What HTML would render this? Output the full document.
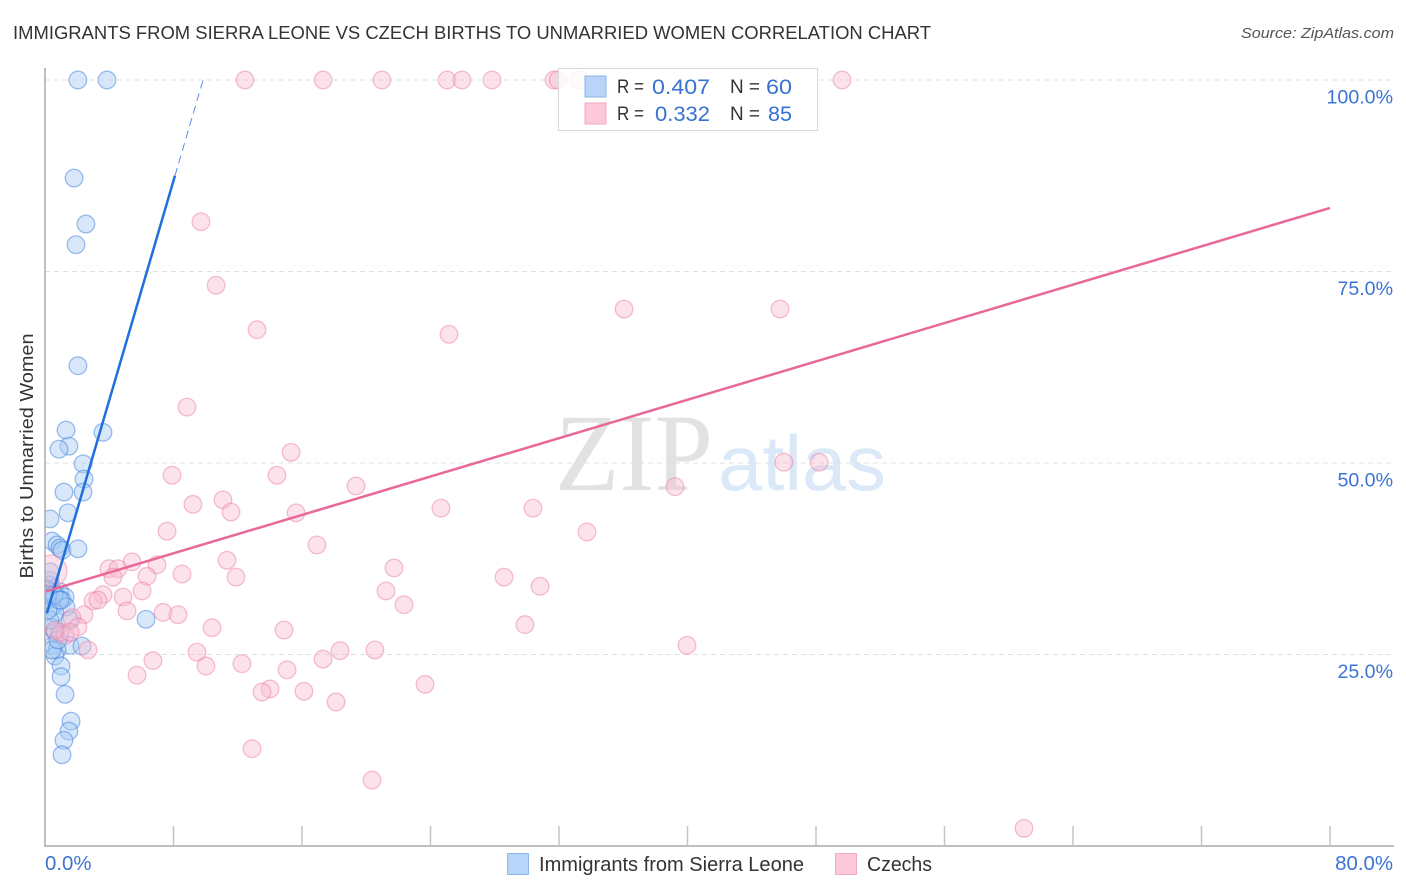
<!DOCTYPE html>
<html lang="en">
<head>
<meta charset="utf-8">
<title>Immigrants from Sierra Leone vs Czech Births to Unmarried Women Correlation Chart</title>
<style>
html,body{margin:0;padding:0;background:#fff;width:1406px;height:892px;overflow:hidden}
svg{display:block;font-family:"Liberation Sans",sans-serif}
</style>
</head>
<body>
<svg id="chart" xmlns="http://www.w3.org/2000/svg" width="1406" height="892" viewBox="0 0 1406 892">
  <defs><clipPath id="plot-clip"><rect x="45" y="60" width="1349" height="786"/></clipPath></defs>
  <rect x="0" y="0" width="1406" height="892" fill="#fff"/>
  <text x="13" y="39" font-size="18.5" fill="#333" textLength="918" lengthAdjust="spacingAndGlyphs">IMMIGRANTS FROM SIERRA LEONE VS CZECH BIRTHS TO UNMARRIED WOMEN CORRELATION CHART</text>
  <text x="1394" y="38" font-size="15" font-style="italic" fill="#555" text-anchor="end" textLength="153" lengthAdjust="spacingAndGlyphs">Source: ZipAtlas.com</text>
  <g>
    <text x="555" y="490" font-family="'Liberation Serif',serif" font-size="110" fill="#e2e2e2" textLength="158" lengthAdjust="spacingAndGlyphs">ZIP</text>
    <text x="718" y="490" font-size="78" fill="#dbe8f8" textLength="168" lengthAdjust="spacingAndGlyphs">atlas</text>
  </g>
  <g id="grid"></g>
  <g id="points" clip-path="url(#plot-clip)"></g>
  <g id="trends"></g>
  <g id="axes"></g>
  <text transform="translate(33,456) rotate(-90)" font-size="18.5" fill="#333" text-anchor="middle" textLength="245" lengthAdjust="spacingAndGlyphs">Births to Unmarried Women</text>

  <g>
    <rect x="558.5" y="68.5" width="259" height="62" fill="#fff" fill-opacity="0.82" stroke="#d8d8d8" stroke-width="1"/>
    <rect x="585" y="76" width="21" height="21" fill="#b8d4f8" stroke="#8fb4e6"/>
    <rect x="585" y="103" width="21" height="21" fill="#fcc8da" stroke="#f2a9c2"/>
    <text x="617" y="93" font-size="19" fill="#333" textLength="27" lengthAdjust="spacingAndGlyphs">R =</text>
    <text x="652" y="94" font-size="21" fill="#3672d2" textLength="58" lengthAdjust="spacingAndGlyphs">0.407</text>
    <text x="730" y="93" font-size="19" fill="#333" textLength="30" lengthAdjust="spacingAndGlyphs">N =</text>
    <text x="766" y="94" font-size="21" fill="#3672d2" textLength="26" lengthAdjust="spacingAndGlyphs">60</text>
    <text x="617" y="120" font-size="19" fill="#333" textLength="27" lengthAdjust="spacingAndGlyphs">R =</text>
    <text x="655" y="121" font-size="21" fill="#3672d2" textLength="55" lengthAdjust="spacingAndGlyphs">0.332</text>
    <text x="730" y="120" font-size="19" fill="#333" textLength="30" lengthAdjust="spacingAndGlyphs">N =</text>
    <text x="768" y="121" font-size="21" fill="#3672d2" textLength="24" lengthAdjust="spacingAndGlyphs">85</text>
  </g>

  <g>
    <rect x="507.5" y="853.5" width="21" height="21" fill="#b8d4f8" stroke="#8fb4e6"/>
    <text x="539" y="871" font-size="20" fill="#333" textLength="265" lengthAdjust="spacingAndGlyphs">Immigrants from Sierra Leone</text>
    <rect x="835.5" y="853.5" width="21" height="21" fill="#fcc8da" stroke="#f2a9c2"/>
    <text x="867" y="871" font-size="20" fill="#333" textLength="65" lengthAdjust="spacingAndGlyphs">Czechs</text>
  </g>
</svg>
<script>
const xTickValues = [0, 8, 16, 24, 32, 40, 48, 56, 64, 72, 80];
const xLabelValues = [0, 80];
const xLabelText = ["0.0%", "80.0%"];
const yTickValues = [100, 75, 50, 25];
const yLabelText = ["100.0%", "75.0%", "50.0%", "25.0%"];

const blueX = [2.05,3.86,1.81,2.55,1.93,2.05,1.31,3.61,1.49,0.87,2.37,2.43,1.18,2.37,1.43,0.31,0.44,0.75,0.93,1.06,2.05,0.31,0.31,0.19,0.44,0.62,0.93,1.25,0.31,0.81,1.06,1.31,0.44,0.62,1.56,0.44,0.62,0.93,1.56,2.30,0.50,0.75,0.62,1.00,1.00,1.25,1.62,1.49,1.18,1.06,6.29,0.12,0.31,0.19,0.56,0.31,0.19,0.93,0.44,0.81];
const blueY = [100,100,87.2,81.2,78.5,62.7,54.3,54.0,52.2,51.8,49.9,47.9,46.2,46.2,43.5,42.7,39.8,39.3,38.9,38.6,38.8,34.7,34.1,33.4,33.2,33.0,33.2,32.5,32.4,32.1,32.1,31.2,31.2,30.4,29.5,28.5,27.9,27.5,26.2,26.1,26.2,25.6,24.8,23.5,22.1,19.8,16.3,15.0,13.8,11.9,29.6,32.1,29.5,30.8,32.8,35.8,32.8,32.1,25.6,26.9];

const pinkX = [12.45,17.31,20.98,25.03,25.96,27.83,31.69,31.94,33.25,49.62,9.71,10.65,13.2,25.15,36.05,45.76,8.84,15.32,14.44,7.91,46.0,48.19,39.22,19.36,9.21,11.08,11.58,15.63,24.65,30.38,7.6,33.74,16.93,11.33,5.42,6.97,3.98,4.54,8.53,6.35,4.23,11.89,21.73,28.58,30.82,21.23,22.35,6.04,4.86,3.61,2.99,3.3,5.11,7.35,8.28,10.4,14.88,29.88,2.43,1.68,2.05,0.93,1.25,1.56,0.37,39.97,2.68,9.46,18.37,20.54,17.31,6.72,12.26,10.02,15.07,5.73,23.66,14.01,13.51,16.12,18.12,12.89,20.36,60.95,0.62];
const pinkY = [100,100,100,100,100,100,100,100,100,100,81.5,73.2,67.4,66.8,70.1,70.1,57.3,51.4,48.4,48.4,50.1,50.1,46.9,47.0,44.6,45.2,43.6,43.5,44.1,44.1,41.1,41.0,39.3,37.3,37.1,36.7,36.2,36.2,35.5,35.2,35.1,35.1,36.3,35.1,33.9,33.3,31.5,33.3,32.5,32.8,32.0,32.1,30.7,30.5,30.2,28.5,28.2,28.9,30.2,29.8,28.6,27.9,27.5,27.9,35.9,26.2,25.6,25.3,25.5,25.6,24.4,24.2,23.8,23.5,23.0,22.3,21.1,20.5,20.1,20.2,18.8,12.7,8.6,2.3,28.2];
const pinkLargePointIndex = 64;

const blueTrendX = [0.12, 8.09];
const blueTrendY = [30.4, 87.5];
const blueTrendDashX = [8.09, 9.84];
const blueTrendDashY = [87.5, 100];
const pinkTrendX = [0, 80];
const pinkTrendY = [33.2, 83.3];

function xScale(v) { return 45 + v * (1330 - 45) / 80; }
function yScale(v) { return 846 - v * (846 - 80) / 100; }

const NS = 'http://www.w3.org/2000/svg';
function make(tag, parent, props) {
  const el = document.createElementNS(NS, tag);
  for (const k in props) el.setAttribute(k, props[k]);
  parent.appendChild(el);
  return el;
}

const gridGroup = document.getElementById('grid');
yTickValues.forEach(function (v) {
  const line = make('line', gridGroup, { x1: 45, x2: 1394, y1: yScale(v), y2: yScale(v), stroke: '#e0e0e0', 'stroke-width': 1, 'stroke-dasharray': '5 4' });
  
  
});

const pointsGroup = document.getElementById('points');
blueX.forEach(function (x, i) {
  const c = make('circle', pointsGroup, { cx: xScale(x), cy: yScale(blueY[i]), r: 8.8, fill: '#a9cbf5', 'fill-opacity': 0.45, stroke: '#3f80dc', 'stroke-opacity': 0.5, 'stroke-width': 1.3 });
  
  
});
pinkX.forEach(function (x, i) {
  const c = make('circle', pointsGroup, { cx: xScale(x), cy: yScale(pinkY[i]), r: i === pinkLargePointIndex ? 16 : 8.8, fill: '#f9b9cf', 'fill-opacity': 0.42, stroke: '#e8769e', 'stroke-opacity': 0.45, 'stroke-width': 1.3 });
  
  
});

const trendGroup = document.getElementById('trends');
const blueSolid = make('line', trendGroup, { x1: xScale(blueTrendX[0]), y1: yScale(blueTrendY[0]), x2: xScale(blueTrendX[1]), y2: yScale(blueTrendY[1]), stroke: '#1f6fdc', 'stroke-width': 2.5 });


const blueDash = make('line', trendGroup, { x1: xScale(blueTrendDashX[0]), y1: yScale(blueTrendDashY[0]), x2: xScale(blueTrendDashX[1]), y2: yScale(blueTrendDashY[1]), stroke: '#2f74d8', 'stroke-width': 1, 'stroke-opacity': 0.8, 'stroke-dasharray': '8 5' });


const pinkSolid = make('line', trendGroup, { x1: xScale(pinkTrendX[0]), y1: yScale(pinkTrendY[0]), x2: xScale(pinkTrendX[1]), y2: yScale(pinkTrendY[1]), stroke: '#e8689a', 'stroke-width': 2.5 });



const axesGroup = document.getElementById('axes');
const yAxisLine = make('line', axesGroup, { x1: 45, x2: 45, y1: 68, y2: 846, stroke: '#aaaaaa', 'stroke-width': 1.5 });


const xAxisLine = make('line', axesGroup, { x1: 44, x2: 1394, y1: 846, y2: 846, stroke: '#aaaaaa', 'stroke-width': 1.5 });


xTickValues.slice(1).forEach(function (v) {
  const t = make('line', axesGroup, { x1: xScale(v), x2: xScale(v), y1: 826, y2: 846, stroke: '#c4c4c4', 'stroke-width': 1.5 });
  
  
});
yTickValues.forEach(function (v, i) {
  const t = make('text', axesGroup, { x: 1393, y: yScale(v) + 23.5, 'font-size': 19.6, fill: '#3c74d4', 'text-anchor': 'end' });
  t.textContent = yLabelText[i];
  
  
});
xLabelValues.forEach(function (v, i) {
  const t = make('text', axesGroup, { x: i === 0 ? xScale(v) : 1393, y: 870, 'font-size': 20.4, fill: '#3c74d4', 'text-anchor': i === 0 ? 'start' : 'end' });
  t.textContent = xLabelText[i];
  
  
});
</script>
</body>
</html>
